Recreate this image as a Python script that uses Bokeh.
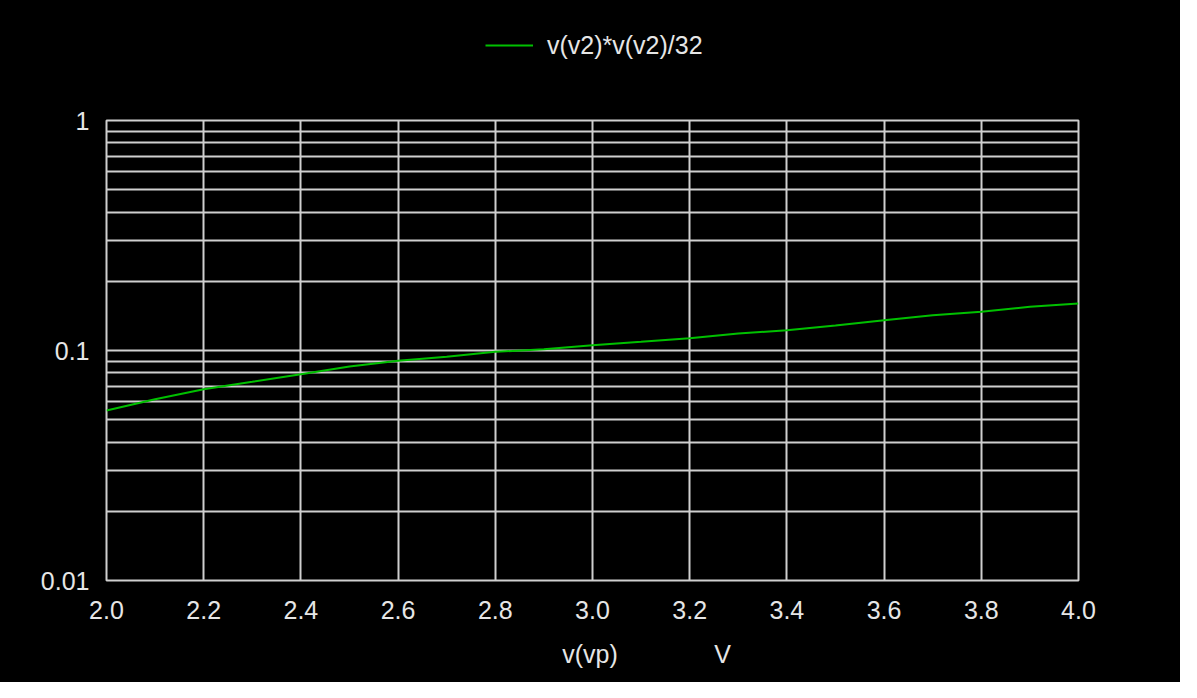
from bokeh.plotting import figure
from bokeh.layouts import column
from bokeh.models import Range1d, FixedTicker, Legend, LegendItem, Label
from bokeh.embed import file_html
from bokeh.resources import INLINE

# ---- data ----
vp = [2.0, 2.1, 2.2, 2.3, 2.4, 2.5, 2.6, 2.7, 2.8, 2.9, 3.0,
      3.1, 3.2, 3.3, 3.4, 3.5, 3.6, 3.7, 3.8, 3.9, 4.0]
power = [0.0548, 0.0614, 0.0679, 0.0731, 0.0789, 0.0852, 0.0902, 0.0939, 0.0987, 0.1013, 0.1054,
         0.1091, 0.1131, 0.1186, 0.1225, 0.1284, 0.1354, 0.1424, 0.1473, 0.1550, 0.1600]
series_name = "v(v2)*v(v2)/32"
x_label = "v(vp)"
x_unit = "V"
x_ticks = [2.0, 2.2, 2.4, 2.6, 2.8, 3.0, 3.2, 3.4, 3.6, 3.8, 4.0]
x_tick_labels = ["2.0", "2.2", "2.4", "2.6", "2.8", "3.0", "3.2", "3.4", "3.6", "3.8", "4.0"]
y_ticks = [0.01, 0.1, 1.0]
y_tick_labels = ["0.01", "0.1", "1"]
y_minor = [0.02, 0.03, 0.04, 0.05, 0.06, 0.07, 0.08, 0.09,
           0.2, 0.3, 0.4, 0.5, 0.6, 0.7, 0.8, 0.9]

FONT = "Liberation Sans"
TXT = "#e6e6e6"
GRID = "#cfcfcf"
GREEN = "#00c000"
W = 1180
BLACK_CSS = {"background-color": "black"}

xr = Range1d(2.0, 4.0)
yr = Range1d(0.01, 1.0)

# ---------------- header (legend) ----------------
head = figure(width=W, height=100, x_range=xr, y_range=yr, y_axis_type="log",
              output_backend="svg", toolbar_location=None,
              x_axis_location=None, y_axis_location=None,
              background_fill_color="black", border_fill_color="black",
              min_border_left=0, min_border_right=0, min_border_top=0, min_border_bottom=0,
              styles=BLACK_CSS)
head.outline_line_color = None
head.xgrid.visible = False
head.ygrid.visible = False
sample = head.line(vp, power, line_color=GREEN, line_width=2, visible=False)
legend = Legend(items=[LegendItem(label=series_name, renderers=[sample])],
                location=(379, 40), orientation="horizontal",
                background_fill_alpha=0, border_line_alpha=0,
                padding=0, margin=0, spacing=0,
                glyph_width=48, glyph_height=30, label_standoff=14,
                label_text_font=FONT, label_text_font_size="25px", label_text_color=TXT)
head.add_layout(legend, "center")

# ---------------- main plot ----------------
p = figure(width=W, height=530,
           y_axis_type="log", x_range=xr, y_range=yr,
           output_backend="svg", toolbar_location=None,
           background_fill_color="black", border_fill_color="black",
           min_border_left=106, min_border_right=102, min_border_top=20, min_border_bottom=50,
           styles=BLACK_CSS)

p.outline_line_color = GRID
p.outline_line_width = 2

xt = FixedTicker(ticks=x_ticks)
yt = FixedTicker(ticks=y_ticks, minor_ticks=y_minor)
p.xaxis.ticker = xt
p.yaxis.ticker = yt
p.xgrid.ticker = xt
p.ygrid.ticker = yt

p.xaxis.major_label_overrides = {t: l for t, l in zip(x_ticks, x_tick_labels)}
p.yaxis.major_label_overrides = {t: l for t, l in zip(y_ticks, y_tick_labels)}

for ax in (p.xaxis, p.yaxis):
    ax.axis_line_color = None
    ax.major_tick_line_color = None
    ax.minor_tick_line_color = None
    ax.major_label_text_font = FONT
    ax.major_label_text_font_size = "25px"
    ax.major_label_text_color = TXT

p.xaxis.major_label_standoff = 14
p.yaxis.major_label_standoff = 11

p.xgrid.grid_line_color = GRID
p.xgrid.grid_line_width = 2
p.ygrid.grid_line_color = GRID
p.ygrid.grid_line_width = 2
p.ygrid.minor_grid_line_color = GRID
p.ygrid.minor_grid_line_width = 2

p.line(vp, power, line_color=GREEN, line_width=2)

# ---------------- footer (x label + unit) ----------------
foot = figure(width=W, height=52, x_range=xr, y_range=Range1d(0, 1),
              output_backend="svg", toolbar_location=None,
              x_axis_location=None, y_axis_location=None,
              background_fill_color="black", border_fill_color="black",
              min_border_left=106, min_border_right=102, min_border_top=0, min_border_bottom=0,
              styles=BLACK_CSS)
foot.outline_line_color = None
foot.xgrid.visible = False
foot.ygrid.visible = False
for txt, xpos in ((x_label, 2.995), (x_unit, 3.2675)):
    foot.add_layout(Label(x=xpos, y=29, y_units="screen", text=txt, text_font=FONT,
                          text_font_size="25px", text_color=TXT, text_align="center",
                          text_baseline="middle"))

layout = column(head, p, foot, spacing=0, styles=BLACK_CSS)
open("out.html", "w").write(file_html(layout, INLINE))
